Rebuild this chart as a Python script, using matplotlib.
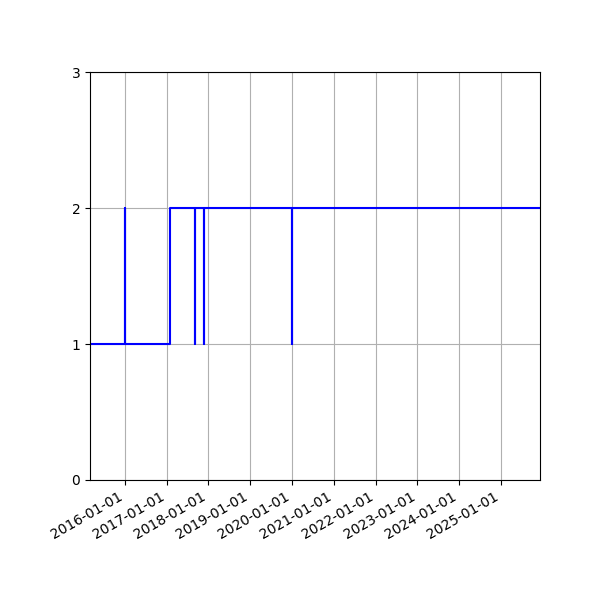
import matplotlib
matplotlib.use("Agg")
import matplotlib.pyplot as plt
import matplotlib.dates as mdates
import pandas as pd

# change points of the series (value holds until the next date)
change_dates = ["2015-03-04", "2016-01-05", "2016-01-06", "2017-01-28",
                "2017-09-05", "2017-09-08", "2017-11-24", "2017-11-25",
                "2020-01-02", "2020-01-03", "2025-12-08"]
change_values = [1, 2, 1, 2, 1, 2, 1, 2, 1, 2, 2]

dates = pd.to_datetime(change_dates)

fig, ax = plt.subplots(figsize=(6, 6), dpi=100)
ax.plot(dates, change_values, color="blue", drawstyle="steps-post")

ax.set_ylim(0, 3)
ax.set_yticks([0, 1, 2, 3])
ax.set_xlim(dates[0], dates[-1])
ax.xaxis.set_major_locator(mdates.YearLocator())
ax.xaxis.set_major_formatter(mdates.DateFormatter("%Y-%m-%d"))
ax.grid(True)

fig.autofmt_xdate()
fig.subplots_adjust(left=0.15, right=0.9, top=0.88, bottom=0.2)
plt.savefig("out.png")
plt.close(fig)
